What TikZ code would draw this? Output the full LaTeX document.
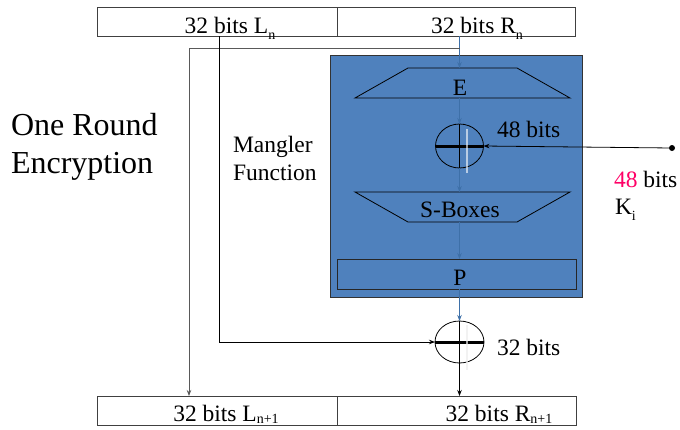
\documentclass[tikz,border=0pt]{standalone}
\usepackage{fontspec}
\setmainfont{Liberation Serif}
\usetikzlibrary{shapes.geometric,arrows.meta}
\definecolor{mblue}{HTML}{4F81BD}
\definecolor{lblue}{HTML}{3E70A8}
\definecolor{mpink}{RGB}{255,0,102}
\newcommand{\sbs}[1]{\raisebox{-0.28em}{\fontsize{14}{14}\selectfont #1}}
\newcommand{\sbt}[1]{\raisebox{-0.12em}{\fontsize{14}{14}\selectfont #1}}
\begin{document}
\begin{tikzpicture}[x=1pt,y=-1pt,
  every node/.style={inner sep=0pt,outer sep=0pt},
  regbox/.style={draw=black!75,line width=0.8pt,minimum width=240pt,minimum height=29pt},
  lbl/.style={anchor=base,font=\fontsize{23.5}{28}\selectfont},
  lbll/.style={anchor=base west,font=\fontsize{23.5}{28}\selectfont},
  trapframe/.style={minimum width=215pt,minimum height=30pt},
  xorc/.style={ellipse,draw=black,line width=0.8pt,minimum width=48pt,minimum height=44pt},
  arr/.style={-{Stealth[length=6pt,width=4.5pt]}},
  bline/.style={lblue,line width=0.8pt,arr},
  kline/.style={black,line width=0.8pt,arr}]
\useasboundingbox (0,0) rectangle (680,429);
% registers
\node[regbox] (Ln) at (217,21.5) {};
\node[regbox,minimum width=238pt] (Rn) at (456,21.5) {};
\node[regbox] (L1) at (217,410.5) {};
\node[regbox,minimum width=239pt] (R1) at (456.5,410.5) {};
\node[lbl] (tLn) at (230,33) {32 bits L\sbs{n}};
\node[lbl] (tRn) at (477,33) {32 bits R\sbs{n}};
\node[lbl] (tL1) at (226,421) {32 bits L\sbt{n+1}};
\node[lbl] (tR1) at (499,421) {32 bits R\sbt{n+1}};
% mangler box
\node[draw=black!80,fill=mblue,line width=0.8pt,minimum width=252pt,minimum height=242pt] (mang) at (456,176) {};
\node[trapframe] (E) at (462.5,83) {};
\node[trapframe] (S) at (462.5,207) {};
\draw[line width=0.8pt] (E.south west) -- (E.south east) -- ([xshift=-53pt]E.north east) -- ([xshift=53pt]E.north west) -- cycle;
\draw[line width=0.8pt] (S.north west) -- (S.north east) -- ([xshift=-53pt]S.south east) -- ([xshift=53pt]S.south west) -- cycle;
\node[draw=black!85,line width=0.8pt,minimum width=239pt,minimum height=30pt] (P) at (456.5,274) {};
\node[lbl] (tE) at (460,95) {E};
\node[lbl] (tS) at (460,217) {S-Boxes};
\node[lbl] (tP) at (460,285) {P};
% xors
\node[xorc] (x1) at (459.5,146) {};
\node[xorc,minimum width=49pt,minimum height=42pt] (x2) at (459.5,342) {};
\foreach \x in {x1,x2}{
  \draw[line width=3pt] (\x.west) -- (\x.east);
  \draw[line width=1.2pt] (\x.north) -- (\x.south);
}
\draw[white,opacity=0.6,line width=1.6pt] (467,129) -- (467,173);
\draw[white!85!gray,opacity=0.7,line width=1.4pt] (467,325) -- (467,370);
% blue data path
\draw[bline] (Rn.south -| x1) -- (E.north -| x1);
\draw[bline] (E.south -| x1) -- (x1.north);
\draw[bline] (x1.south) -- (S.north -| x1);
\draw[bline] (S.south -| x1) -- (P.north -| x1);
\draw[bline] (P.south -| x1) -- (x2.north);
% R copy to L_{n+1}
\coordinate (split) at (459.5,48);
\draw[black!65,line width=0.8pt,arr] (split) -| ([xshift=-28pt]L1.north);
% L_n into xor 2
\draw[kline] ([xshift=2pt]Ln.south) |- (x2.west);
\draw[kline] (x2.south) -- (x2.south |- R1.north);
% key
\node[circle,fill=black,minimum size=6pt] (key) at (672,148) {};
\draw[kline] (key) -- (x1.east);
% texts
\node[lbll] (t48a) at (497,137) {48 bits};
\node[lbll] (t32) at (497,355) {32 bits};
\node[lbll] (t48b) at (614,187) {\textcolor{mpink}{48} bits};
\node[lbll] (tK) at (615,214) {K\sbs{i}};
\node[anchor=base west,font=\fontsize{32}{37}\selectfont] (t1) at (11,135) {One Round};
\node[anchor=base west,font=\fontsize{32}{37}\selectfont] (t2) at (11,173) {Encryption};
\node[lbll] (m1) at (233,152) {Mangler};
\node[lbll] (m2) at (233,180) {Function};
\end{tikzpicture}
\end{document}
